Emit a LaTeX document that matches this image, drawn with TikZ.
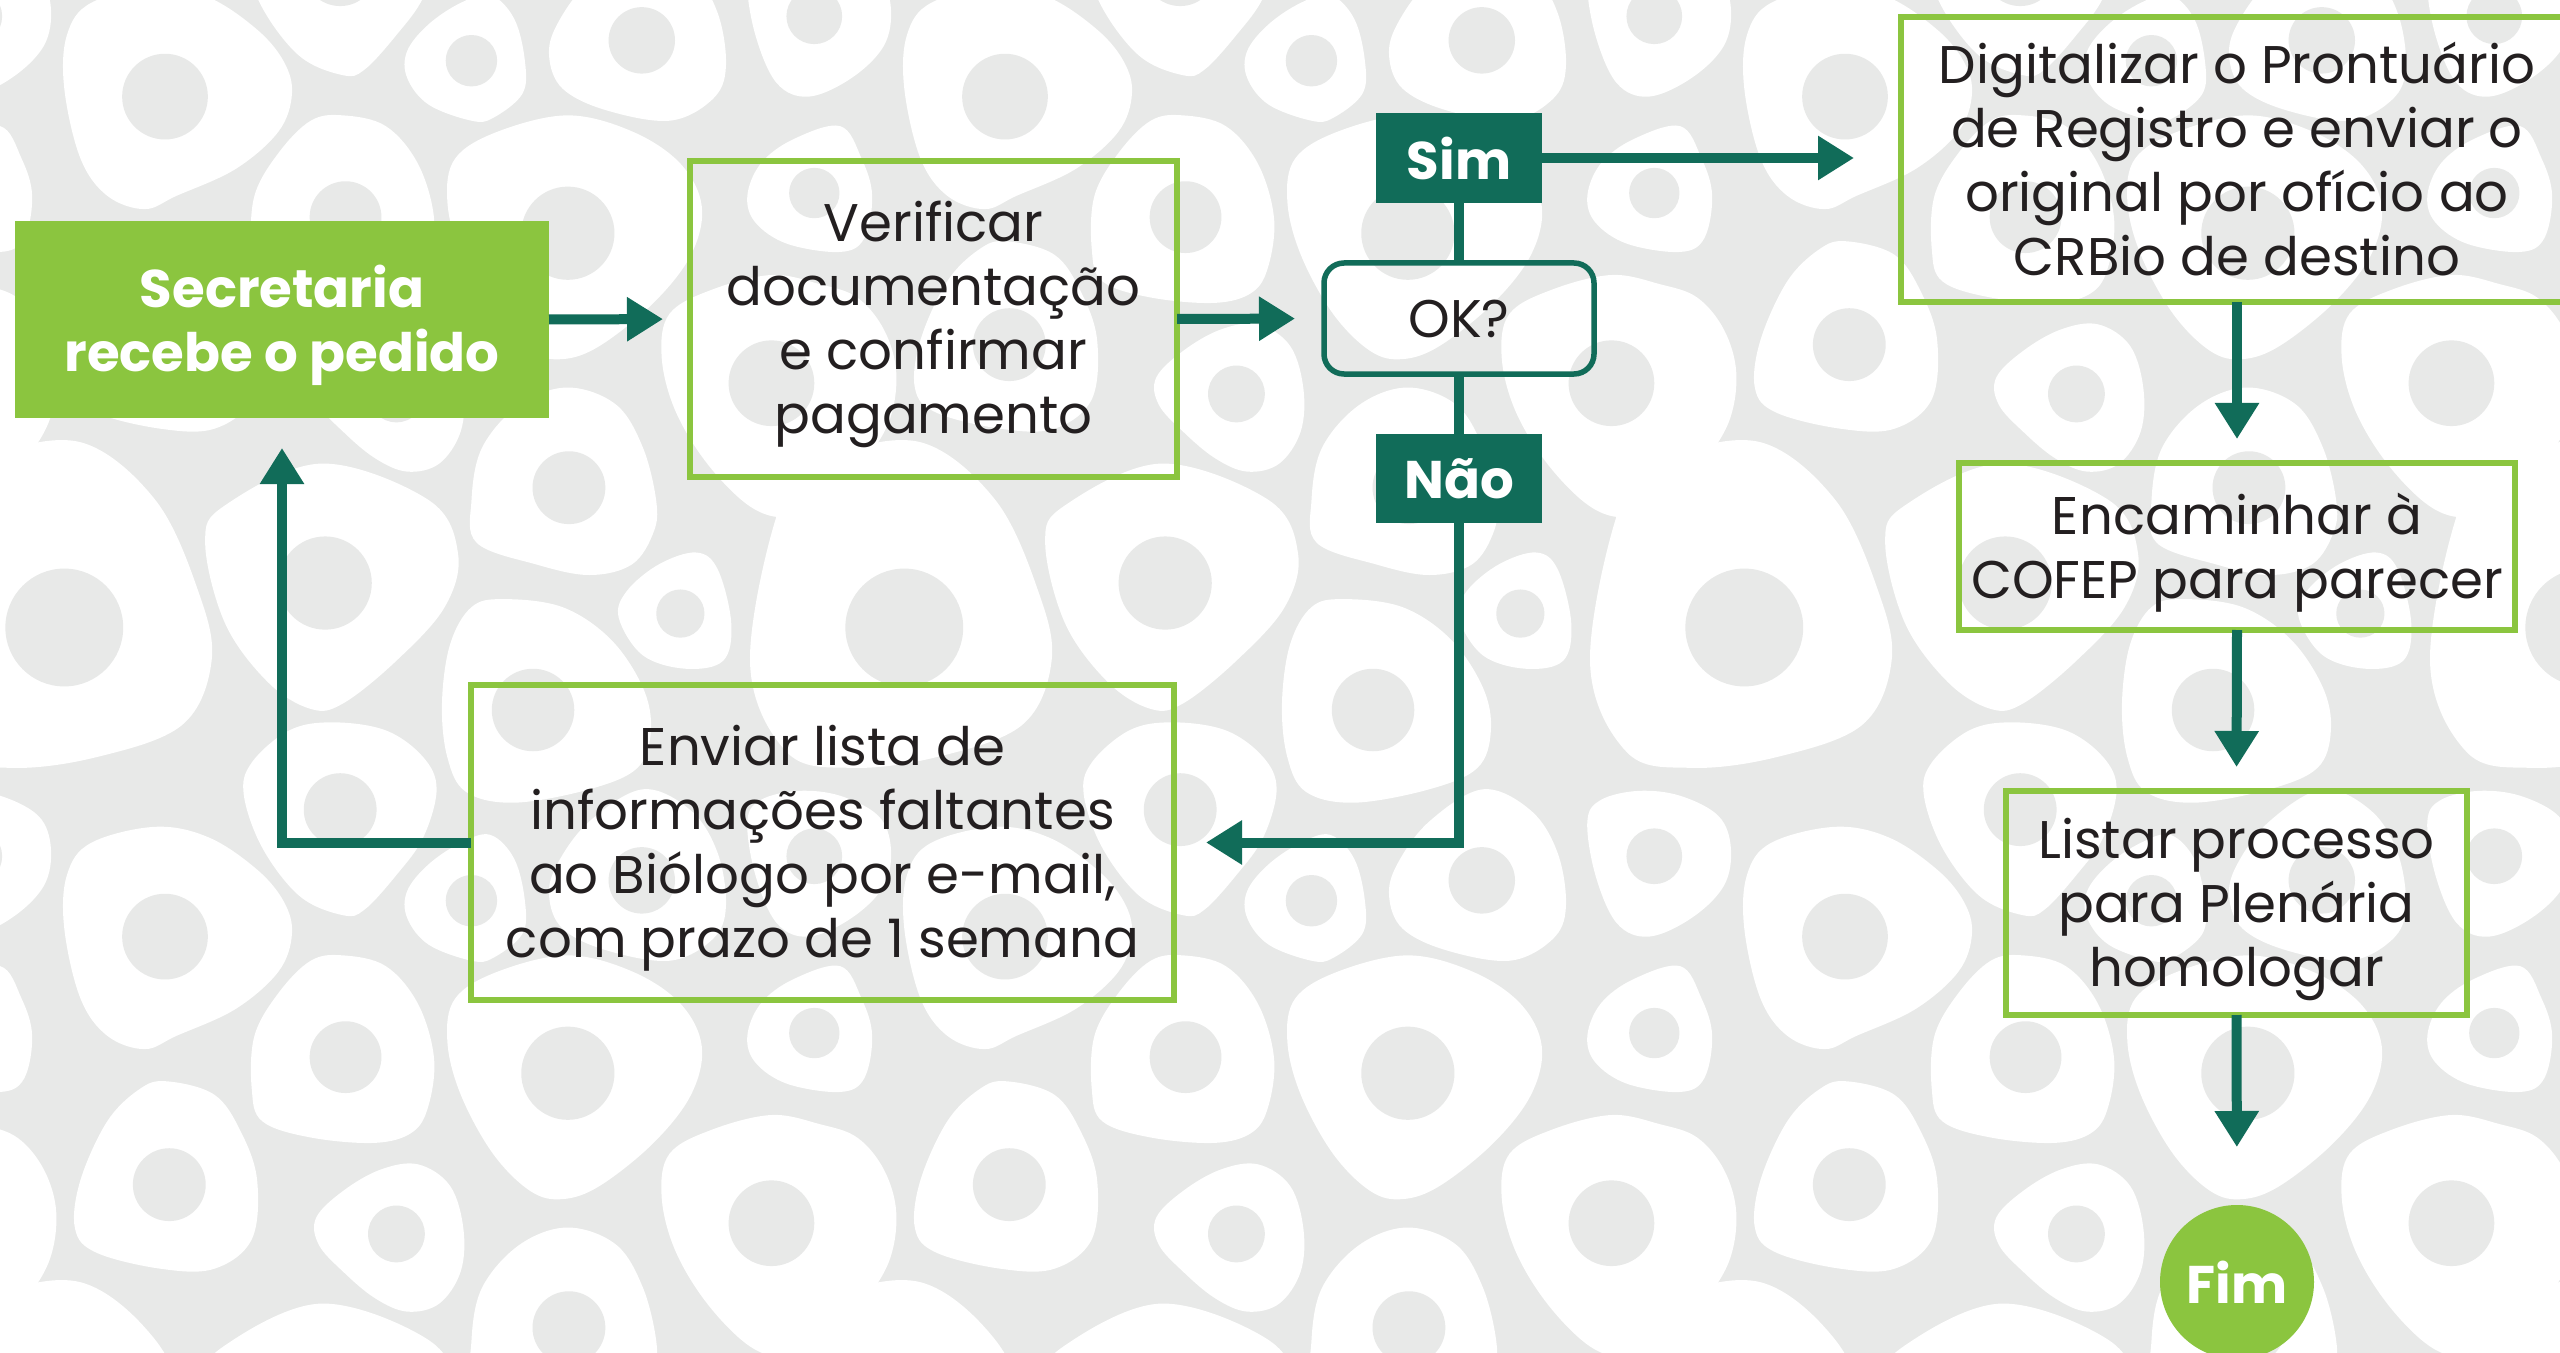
\documentclass[tikz,border=0pt]{standalone}
\usepackage{fontspec}
\setmainfont{Poppins}
\usetikzlibrary{arrows.meta}
\definecolor{lgreen}{HTML}{8BC53F}
\definecolor{dgreen}{HTML}{116C59}
\definecolor{bggrey}{HTML}{E8E9E8}
\definecolor{txt}{HTML}{231F20}
\newcommand\topstrut{\rule{0pt}{27bp}}
\newcommand\myblob[3]{\fill[white] plot[smooth cycle,tension=0.6] coordinates {#1}; \fill[bggrey] #2 circle[radius=#3];}
\newcommand\blobtile{%
\myblob{(150,-108) (290,0) (370,170) (395,300) (340,420) (180,480) (20,500) (-100,470) (-168,300) (-108,0) (-20,-80)}{(120,238)}{110}
\myblob{(600,-68) (800,0) (855,100) (830,200) (740,300) (640,380) (580,390) (500,340) (420,230) (383,80) (420,10)}{(607,155)}{87}
\myblob{(1060,1358) (1150,1390) (1200,1470) (1225,1570) (1220,1628) (1180,1688) (1100,1708) (1000,1688) (890,1648) (880,1570) (900,1470) (970,1390)}{(1062,1545)}{68}
\myblob{(1300,98) (1340,130) (1365,230) (1350,300) (1280,315) (1200,290) (1155,220) (1170,170) (1230,120)}{(1270,212)}{45}
\myblob{(940,185) (1050,200) (1140,260) (1200,350) (1215,430) (1190,500) (1100,540) (960,565) (870,545) (835,480) (825,380) (840,270) (880,200)}{(995,392)}{77}
\myblob{(620,415) (720,430) (790,480) (815,540) (790,630) (740,700) (680,765) (640,775) (560,740) (490,650) (455,550) (470,490) (540,430)}{(635,578)}{68}
\myblob{(915,625) (960,670) (980,750) (975,810) (920,855) (880,860) (800,830) (760,780) (760,730) (800,680) (860,640)}{(880,748)}{48}
\myblob{(1200,540) (1290,580) (1340,660) (1355,760) (1330,820) (1250,860) (1130,840) (1050,800) (1025,740) (1040,680) (1100,600)}{(1198,710)}{62}
\myblob{(1490,543) (1568,552) (1640,590) (1663,650) (1650,720) (1590,780) (1510,815) (1450,790) (1410,700) (1395,600) (1420,560)}{(1520,665)}{52}
\myblob{(290,610) (390,630) (480,690) (530,750) (545,810) (520,880) (440,950) (330,1000) (270,1025) (200,1000) (150,930) (120,800) (125,700) (170,640)}{(308,815)}{80}
\myblob{(1568,870) (1608,930) (1628,1000) (1613,1080) (1568,1105) (1470,1090) (1410,1050) (1395,1000) (1420,940) (1480,895)}{(1520,995)}{47}
\myblob{(640,850) (720,870) (780,940) (810,1040) (800,1130) (770,1180) (700,1200) (580,1190) (490,1160) (470,1100) (475,1000) (520,920) (580,860)}{(645,1040)}{67}
\myblob{(1060,850) (1180,880) (1270,940) (1310,1020) (1290,1110) (1220,1200) (1120,1280) (1050,1305) (990,1290) (920,1220) (860,1110) (835,1010) (850,930) (930,880)}{(1060,1070)}{87}
\myblob{(310,1085) (400,1110) (450,1180) (480,1270) (470,1380) (400,1435) (300,1435) (180,1405) (140,1360) (150,1270) (200,1160) (260,1100)}{(316,1278)}{68}
\myblob{(1440,1148) (1530,1165) (1600,1190) (1650,1250) (1673,1330) (1660,1420) (1610,1500) (1540,1570) (1470,1600) (1400,1580) (1320,1500) (1260,1400) (1235,1300) (1250,1220) (1330,1175)}{(1440,1350)}{80}
\myblob{(780,1240) (840,1280) (865,1360) (860,1440) (820,1500) (760,1515) (700,1490) (640,1440) (595,1390) (590,1340) (640,1290) (710,1250)}{(740,1370)}{53}
}
\begin{document}
\begin{tikzpicture}[x=0.5bp,y=-0.5bp,
  txtfont/.style={font=\fontsize{26.5bp}{32bp}\selectfont},
  box/.style={draw=lgreen, line width=2.75bp, align=center, inner sep=0pt, outer sep=0pt, text=txt, txtfont},
  tag/.style={fill=dgreen, text=white, align=center, inner sep=0pt, outer sep=0pt, font=\fontsize{26.5bp}{32bp}\selectfont\bfseries, minimum width=83bp, minimum height=45bp},
  conn/.style={draw=dgreen, line width=5bp, -{Triangle[length=18bp,width=21bp]}},
  plain/.style={draw=dgreen, line width=5bp}]
\useasboundingbox (0,0) rectangle (2560,1353);
\begin{scope}
\clip (0,0) rectangle (2560,1353);
\fill[bggrey] (0,0) rectangle (2560,1353);
\foreach \i in {-1,0,1,2,3}{\foreach \j in {-1,0,1}{
  \begin{scope}[shift={(\i*840,500+\j*840)},scale=0.535714]
  \blobtile
  \end{scope}}}
\end{scope}
% nodes
\node[fill=lgreen, text=white, align=center, inner sep=0pt, outer sep=0pt, minimum width=267bp, minimum height=98.5bp, font=\fontsize{26.5bp}{32bp}\selectfont\bfseries] (sec) at (282,319.5) {\topstrut Secretaria\\recebe o pedido};
\node[box, minimum width=243.5bp, minimum height=158bp] (ver) at (933.5,319) {\rule{0pt}{25.5bp}Verificar\\documentação\\e confirmar\\pagamento};
\node[draw=dgreen, line width=2.75bp, rounded corners=10bp, inner sep=0pt, outer sep=0pt, minimum width=135bp, minimum height=55.5bp, text=txt, txtfont] (ok) at (1459,318.5) {OK?};
\node[tag] (sim) at (1459,158) {Sim};
\node[tag, minimum height=44.5bp] (nao) at (1459,478.5) {Não};
\node[box, minimum width=336bp, minimum height=142.5bp] (dig) at (2237,159.5) {Digitalizar o Prontuário\\de Registro e enviar o\\original por ofício ao\\CRBio de destino};
\node[box, minimum width=278bp, minimum height=83.5bp] (enc) at (2237,546.5) {\topstrut Encaminhar à\\COFEP para parecer};
\node[box, minimum width=230.5bp, minimum height=112bp] (lis) at (2236.5,903) {\topstrut Listar processo\\para Plenária\\homologar};
\node[box, minimum width=351.5bp, minimum height=157.5bp] (env) at (822.5,842.5) {\rule{0pt}{26bp}Enviar lista de\\informações faltantes\\ao Biólogo por e-mail,\\com prazo de 1 semana};
\node[circle, fill=lgreen, text=white, inner sep=0pt, outer sep=0pt, minimum size=77bp, font=\fontsize{26.5bp}{32bp}\selectfont\bfseries] (fim) at (2237,1282) {Fim};
% connectors
\draw[conn, shorten >=13.5bp] (sec.east) -- (ver.west);
\draw[conn, shorten >=14.5bp] (ver.east) -- (ok.west);
\draw[plain] (sim.south) -- (ok.north);
\draw[plain] (ok.south) -- (nao.north);
\draw[conn, shorten >=23.5bp] (sim.east) -- (sim.east -| dig.west);
\draw[conn, shorten >=16bp] (nao.south) |- (env.east);
\draw[conn, shorten >=15bp] (env.west) -| (sec.south);
\draw[conn, shorten >=12bp] (dig.south) -- (enc.north);
\draw[conn, shorten >=12bp] (enc.south) -- (lis.north);
\draw[conn, shorten >=29bp] (lis.south) -- (fim.north);
\end{tikzpicture}
\end{document}
